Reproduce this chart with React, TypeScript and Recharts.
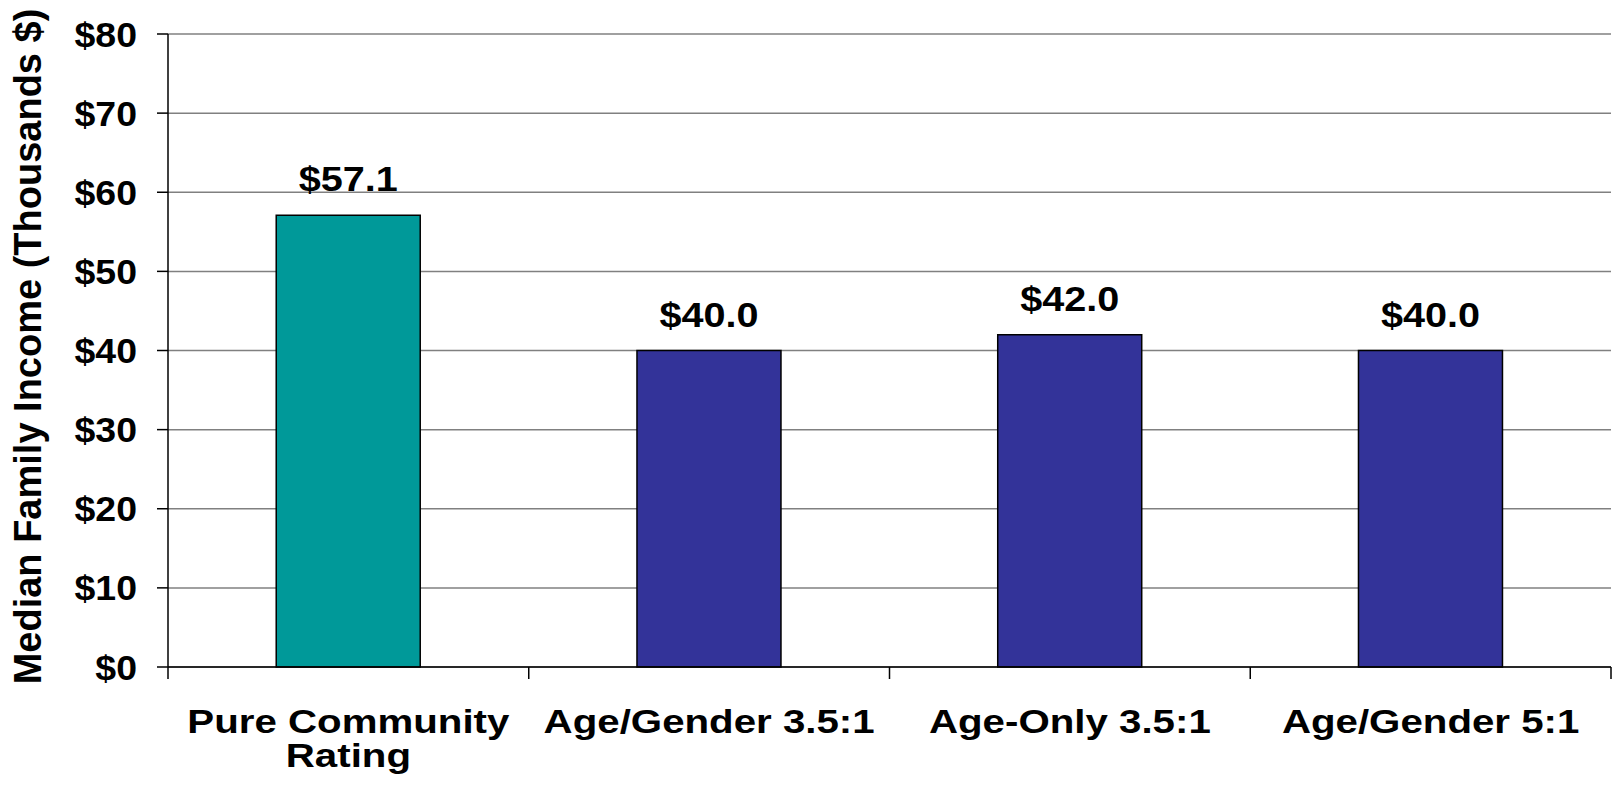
import React from "react";
import {
  BarChart,
  Bar,
  XAxis,
  YAxis,
  CartesianGrid,
  LabelList,
  Cell,
} from "recharts";

const categories = [
  "Pure Community Rating",
  "Age/Gender 3.5:1",
  "Age-Only 3.5:1",
  "Age/Gender 5:1",
];
const incomeValues = [57.1, 40.0, 42.0, 40.0];
const yTicks = [0, 10, 20, 30, 40, 50, 60, 70, 80];

const barColors = ["#009999", "#333399", "#333399", "#333399"];

const data = categories.map((name, i) => ({ name, income: incomeValues[i] }));

const FONT = "'Liberation Sans', Arial, Helvetica, sans-serif";
const W = 1612;
const H = 799;
const Y_AXIS_W = 168;
const RIGHT = 1;
const BAND = (W - Y_AXIS_W - RIGHT) / categories.length;

// the source text is a bit wider than it is tall, so stretch it horizontally
const X_FONT = 33;
const X_SX = 1.22;
const TICK_FONT = 35;
const TICK_SX = 1.07;
const VAL_FONT = 36;
const VAL_SX = 1.1;

let measureCtx: CanvasRenderingContext2D | null = null;
function textWidth(s: string, size: number) {
  if (!measureCtx) measureCtx = document.createElement("canvas").getContext("2d");
  if (!measureCtx) return s.length * size * 0.6;
  measureCtx.font = `bold ${size}px ${FONT}`;
  return measureCtx.measureText(s).width;
}

function wrap(label: string, maxW: number) {
  const words = label.split(" ");
  const lines: string[] = [];
  let cur = "";
  words.forEach((w) => {
    const next = cur ? `${cur} ${w}` : w;
    if (cur && textWidth(next, X_FONT) * X_SX > maxW) {
      lines.push(cur);
      cur = w;
    } else {
      cur = next;
    }
  });
  if (cur) lines.push(cur);
  return lines;
}

function Stretched({ x, y, sx, size, anchor = "middle", children }: any) {
  return (
    <text
      transform={`translate(${x},${y}) scale(${sx},1)`}
      textAnchor={anchor}
      fontFamily={FONT}
      fontWeight="bold"
      fontSize={size}
      fill="#000"
    >
      {children}
    </text>
  );
}

function CategoryTick(props: any) {
  const { x, y, payload, index } = props;
  const half = payload && payload.offset ? payload.offset : BAND / 2;
  const lines = wrap(String(payload.value), 350);
  return (
    <g>
      <line x1={x - half} x2={x - half} y1={y} y2={y + 12} stroke="#000" strokeWidth={1.5} />
      {index === categories.length - 1 && (
        <line x1={x + half} x2={x + half} y1={y} y2={y + 12} stroke="#000" strokeWidth={1.5} />
      )}
      {lines.map((ln, i) => (
        <Stretched key={i} x={x} y={y + 66 + i * 34} sx={X_SX} size={X_FONT}>
          {ln}
        </Stretched>
      ))}
    </g>
  );
}

function ValueTick(props: any) {
  const { x, y, payload } = props;
  return (
    <Stretched x={x} y={y + TICK_FONT * 0.358} sx={TICK_SX} size={TICK_FONT} anchor="end">
      {`$${payload.value}`}
    </Stretched>
  );
}

function BarValue(props: any) {
  const { x, y, width, value } = props;
  return (
    <Stretched x={x + width / 2} y={y - 24} sx={VAL_SX} size={VAL_FONT}>
      {`$${Number(value).toFixed(1)}`}
    </Stretched>
  );
}

function YTitle(props: any) {
  const vb = props.viewBox || { x: 0, y: 34, width: Y_AXIS_W, height: 633 };
  const cx = vb.x + 28;
  const cy = vb.y + vb.height / 2 - 4;
  return (
    <text
      x={cx}
      y={cy}
      transform={`rotate(-90, ${cx}, ${cy})`}
      textAnchor="middle"
      dominantBaseline="central"
      fontFamily={FONT}
      fontWeight="bold"
      fontSize={38}
      fill="#000"
    >
      Median Family Income (Thousands $)
    </text>
  );
}

export default function App() {
  return (
    <div style={{ position: "absolute", left: 0, top: 0, background: "#fff" }}>
      <BarChart
        width={W}
        height={H}
        data={data}
        margin={{ top: 34, right: RIGHT, bottom: 0, left: 0 }}
        barCategoryGap="30%"
        style={{ fontFamily: FONT }}
      >
        <CartesianGrid vertical={false} stroke="#808080" strokeWidth={1.5} />
        <XAxis
          dataKey="name"
          height={132}
          interval={0}
          tickSize={0}
          tickMargin={0}
          tickLine={false}
          axisLine={{ stroke: "#000", strokeWidth: 1.5 }}
          tick={<CategoryTick />}
        />
        <YAxis
          width={Y_AXIS_W}
          domain={[0, 80]}
          ticks={yTicks}
          interval={0}
          tickSize={11}
          tickMargin={20}
          tick={<ValueTick />}
          tickLine={{ stroke: "#000", strokeWidth: 1.5 }}
          axisLine={{ stroke: "#000", strokeWidth: 1.5 }}
          label={{ content: <YTitle /> }}
        />
        <Bar dataKey="income" stroke="#000" strokeWidth={1.5} isAnimationActive={false}>
          {data.map((d, i) => (
            <Cell key={d.name} fill={barColors[i]} />
          ))}
          <LabelList dataKey="income" content={<BarValue />} />
        </Bar>
      </BarChart>
    </div>
  );
}
